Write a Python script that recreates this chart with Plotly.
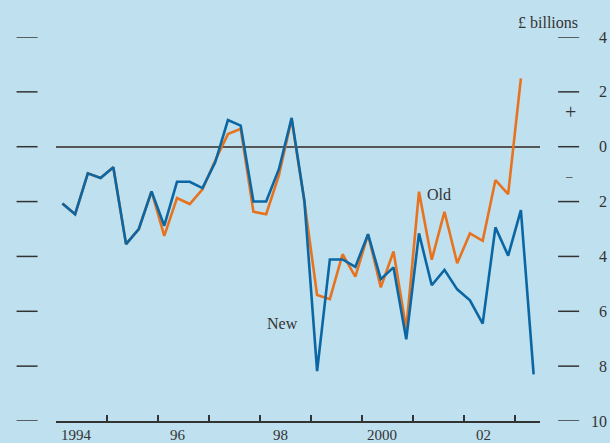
import plotly.graph_objects as go

# ---- data ----
start_year = 1994
new_values = [-2.07, -2.46, -0.97, -1.14, -0.75, -3.55, -3.0, -1.63, -2.88, -1.28,
              -1.28, -1.51, -0.57, 0.97, 0.77, -2.0, -2.0, -0.82, 1.05, -1.97,
              -8.18, -4.11, -4.11, -4.38, -3.19, -4.83, -4.4, -7.02, -3.16, -5.05,
              -4.49, -5.2, -5.6, -6.45, -2.94, -3.97, -2.31, -8.3]
old_values = [-2.07, -2.46, -0.97, -1.14, -0.75, -3.55, -3.0, -1.63, -3.25, -1.87,
              -2.09, -1.55, -0.5, 0.46, 0.65, -2.37, -2.46, -1.05, 1.0, -2.0,
              -5.41, -5.56, -3.92, -4.74, -3.2, -5.13, -3.82, -6.65, -1.64, -4.12,
              -2.37, -4.25, -3.16, -3.43, -1.22, -1.73, 2.49]
year_ticks = list(range(1994, 2004))
year_labels = ["1994", "96", "98", "2000", "02"]
year_label_pos = [1994, 1996, 1998, 2000, 2002]
y_ticks = [4, 2, 0, -2, -4, -6, -8, -10]
y_tick_text = ["4", "2", "0", "2", "4", "6", "8", "10"]

def qx(i):
    return start_year + i * 0.25 + 0.125

x_new = [qx(i) for i in range(len(new_values))]
x_old = [qx(i) for i in range(len(old_values))]

BG = "#bfe0ef"
BLUE = "#0b67a4"
ORANGE = "#e8731f"
INK = "#333333"
FONT = "Liberation Serif"

fig = go.Figure()
fig.add_trace(go.Scatter(x=x_old, y=old_values, mode="lines",
                         line=dict(color=ORANGE, width=2.6), showlegend=False))
fig.add_trace(go.Scatter(x=x_new, y=new_values, mode="lines",
                         line=dict(color=BLUE, width=2.6), showlegend=False))

W, H = 610, 443
ml, mr, mt, mb = 56.4, 70.1, 37.3, 22.3
pw = W - ml - mr
ph = H - mt - mb

def px_to_paper_x(p):
    return (p - ml) / pw

def px_to_paper_y(p):
    return (H - mb - p) / ph

shapes = []
for v in y_ticks:
    shapes.append(dict(type="line", xref="paper", yref="y",
                       x0=px_to_paper_x(17), x1=px_to_paper_x(38), y0=v, y1=v,
                       line=dict(color=INK, width=1.5)))
    shapes.append(dict(type="line", xref="paper", yref="y",
                       x0=px_to_paper_x(558), x1=px_to_paper_x(579), y0=v, y1=v,
                       line=dict(color=INK, width=1.5)))

annotations = []
for v, t in zip(y_ticks, y_tick_text):
    annotations.append(dict(xref="paper", yref="y", x=px_to_paper_x(609), y=v,
                            text=t, showarrow=False, xanchor="right", yanchor="middle",
                            font=dict(family=FONT, size=16, color=INK)))
for pos, t in zip(year_label_pos, year_labels):
    annotations.append(dict(xref="x", yref="paper", x=pos + 0.4, y=px_to_paper_y(435),
                            text=t, showarrow=False, xanchor="center", yanchor="middle",
                            font=dict(family=FONT, size=15, color=INK)))
annotations += [
    dict(xref="paper", yref="paper", x=px_to_paper_x(580), y=px_to_paper_y(23),
         text="£ billions", showarrow=False, xanchor="right", yanchor="middle",
         font=dict(family=FONT, size=16, color=INK)),
    dict(xref="paper", yref="y", x=px_to_paper_x(570.5), y=1.25, text="+",
         showarrow=False, xanchor="center", yanchor="middle",
         font=dict(family=FONT, size=20, color=INK)),
    dict(xref="paper", yref="y", x=px_to_paper_x(569), y=-1.06, text="–",
         showarrow=False, xanchor="center", yanchor="middle",
         font=dict(family=FONT, size=13, color=INK)),
    dict(xref="x", yref="y", x=2001.24, y=-1.75, text="Old", showarrow=False,
         xanchor="left", yanchor="middle", font=dict(family=FONT, size=16, color=INK)),
    dict(xref="x", yref="y", x=1998.45, y=-6.46, text="New", showarrow=False,
         xanchor="center", yanchor="middle", font=dict(family=FONT, size=16, color=INK)),
]

fig.update_layout(
    width=W, height=H,
    margin=dict(l=ml, r=mr, t=mt, b=mb, pad=0),
    paper_bgcolor=BG, plot_bgcolor=BG,
    shapes=shapes, annotations=annotations,
    xaxis=dict(range=[1994, 2003.5], showgrid=False, zeroline=False,
               showline=True, linecolor=INK, linewidth=1.5,
               tickvals=year_ticks, ticktext=[""] * len(year_ticks),
               ticks="inside", ticklen=6, tickwidth=1.5, tickcolor=INK,
               fixedrange=True),
    yaxis=dict(range=[-10, 4], showgrid=False, showticklabels=False,
               zeroline=True, zerolinecolor="#555555", zerolinewidth=1.6,
               fixedrange=True),
    showlegend=False,
)

fig.write_html(
    "out.html",
    config={"displayModeBar": False},
    post_script="document.body.style.margin='0px';document.body.style.overflow='hidden';"
                "document.body.style.background='" + BG + "';",
)
